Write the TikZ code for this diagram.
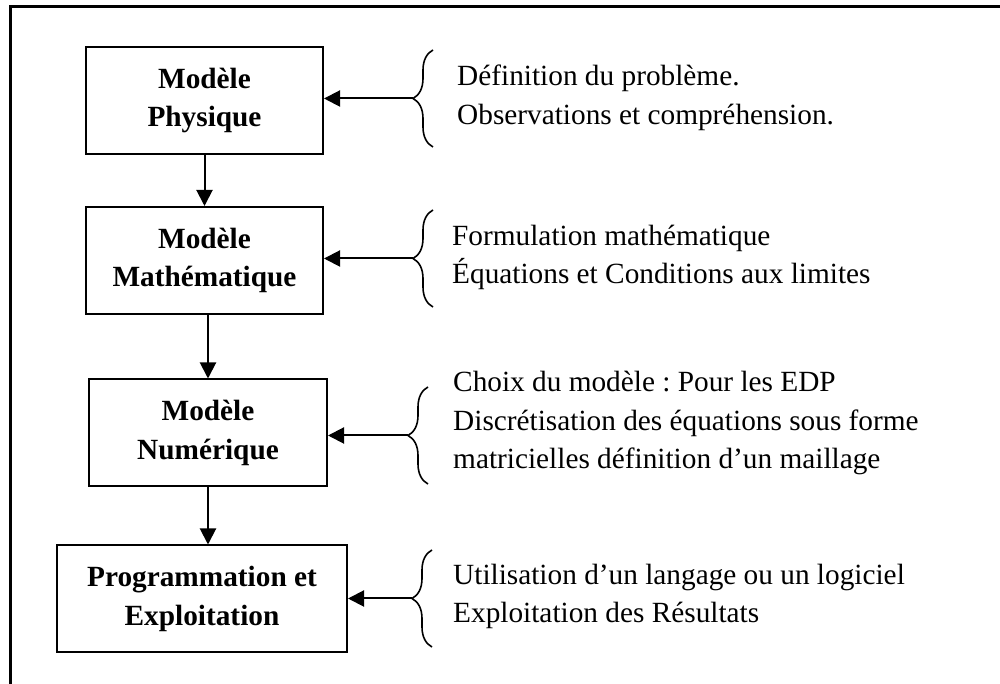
\documentclass[tikz,border=0pt]{standalone}
\usepackage{fontspec}
\setmainfont{Liberation Serif}
\usetikzlibrary{arrows.meta,decorations.pathreplacing}
\frenchspacing
\begin{document}
\begin{tikzpicture}[x=1pt, y=1pt, font=\fontsize{29.3}{38.5}\selectfont, modelbox/.style={rectangle, draw=black, line width=2pt, minimum width=#1, minimum height=107pt, inner sep=0pt, font=\fontsize{29.3}{38.5}\selectfont\bfseries, align=center}, modelbox/.default=237pt, note/.style={anchor=west, inner sep=0pt, align=left}, bracenote/.style={decorate, decoration={brace, amplitude=20pt}, line width=1.6pt}, flow/.style={-{Triangle[length=16pt, width=16pt]}, line width=2pt}]

\useasboundingbox (0,0) rectangle (1000,684);
\draw[line width=3pt] (10,0) -- (10,677) -- (1000,677);

\node [modelbox] (PHY) at (204.5,583.5){Modèle\\Physique};
\node [modelbox] (MATH) at (204.5,423.5){Modèle\\Mathématique};
\node [modelbox=238pt] (NUM) at (208,251){Modèle\\Numérique};
\node [modelbox=290pt] (PROG) at (202,85){Programmation et\\Exploitation};

\node [note] (T1) at (457,586){Définition du problème.\\Observations et compréhension.};
\node [note] (T2) at (452,426.5){Formulation mathématique\\Équations et Conditions aux limites};
\node [note] (T3) at (453,261){Choix du modèle : Pour les EDP\\Discrétisation des équations sous forme\\matricielles définition d’un maillage};
\node [note] (T4) at (453,87.5){Utilisation d’un langage ou un logiciel\\Exploitation des Résultats};

\draw[bracenote] (433,537) -- (433,634);
\draw[bracenote] (433,377) -- (433,474);
\draw[bracenote] (428,200) -- (428,297);
\draw[bracenote] (432,37) -- (432,134);

\coordinate (B1) at (413,585.5);
\coordinate (B2) at (413,425.5);
\coordinate (B3) at (408,248.5);
\coordinate (B4) at (412,85.5);

\draw[flow] (B1) -- (B1 -| PHY.east);
\draw[flow] (B2) -- (B2 -| MATH.east);
\draw[flow] (B3) -- (B3 -| NUM.east);
\draw[flow] (B4) -- (B4 -| PROG.east);

\draw[flow] (PHY.south) -- (PHY.south |- MATH.north);
\draw[flow] (NUM.north |- MATH.south) -- (NUM.north);
\draw[flow] (NUM.south) -- (NUM.south |- PROG.north);

\end{tikzpicture}
\end{document}
